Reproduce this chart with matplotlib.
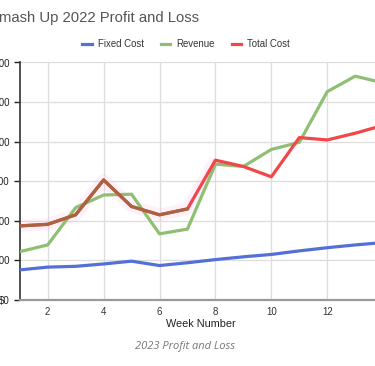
import matplotlib.pyplot as plt
import numpy as np

plt.rcParams['font.family'] = ['Liberation Sans', 'DejaVu Sans']

# weekly data
weeks = np.arange(1, 15)
fixed_cost = [152, 166, 170, 182, 196, 174, 188, 204, 218, 230, 248, 264, 278, 290]
revenue = [244, 278, 466, 530, 534, 334, 358, 686, 674, 760, 796, 1052, 1130, 1096]
total_cost = [374, 382, 430, 606, 472, 430, 460, 706, 674, 622, 820, 808, 842, 882]
y_ticks = [0, 200, 400, 600, 800, 1000, 1200]
y_labels = ['$0', '$200', '$400', '$600', '$800', '$1,000', '$1,200']

W, H = 375, 366
fig = plt.figure(figsize=(W / 100, H / 100), dpi=100)
# plot area is wider than the picture (chart was cropped on both sides)
x0, x1 = 19.7, 383.2
y0, y1 = 300, 62.3
ax = fig.add_axes([x0 / W, 1 - y0 / H, (x1 - x0) / W, (y0 - y1) / H])

blue = '#5470d6'
green = '#8fbf72'
red = '#f2474a'

# faint pink glow under the early part of total cost
ax.plot(weeks[:8], total_cost[:8], color='#ffb3e6', lw=9, alpha=0.18,
        solid_capstyle='butt', zorder=2)
ax.plot(weeks, fixed_cost, color=blue, lw=2.3, label='Fixed Cost', zorder=3)
ax.plot(weeks, revenue, color=green, lw=2.3, label='Revenue', zorder=3)
ax.plot(weeks, total_cost, color=red, lw=2.3, label='Total Cost', zorder=4)
# brownish tone where the total cost line looks blended in the reference
ax.plot(weeks[:7], total_cost[:7], color='#a9643f', lw=2.3, zorder=5)

ax.set_xlim(1, 14)
ax.set_ylim(0, 1200)
ax.set_xticks(np.arange(2, 15, 2))
ax.set_yticks(y_ticks)
ax.set_yticklabels(y_labels)
ax.tick_params(axis='x', length=0, labelsize=7, colors='#333333', pad=5)
ax.tick_params(axis='y', length=4, width=1, direction='out', labelsize=7,
               colors='#222222', pad=3)
ax.grid(True, color='#dddddd', lw=0.9)
ax.set_axisbelow(True)
for s in ['top', 'right']:
    ax.spines[s].set_visible(False)
ax.spines['left'].set_color('#333333')
ax.spines['left'].set_linewidth(1.2)
ax.spines['bottom'].set_color('#9a9a9a')
ax.spines['bottom'].set_linewidth(1.6)

fig.text(-11 / W, 1 - 18 / H, 'Smash Up 2022 Profit and Loss', fontsize=10.7,
         color='#555555', ha='left', va='center')
fig.legend(loc='center', bbox_to_anchor=(186 / W, 1 - 44 / H), ncol=3,
           frameon=False, fontsize=6.9, handlelength=1.0, handletextpad=0.6,
           columnspacing=1.8, labelcolor='#333333')
fig.text(201 / W, 1 - 324 / H, 'Week Number', fontsize=7.8, color='#222222',
         ha='center', va='center')
fig.text(185 / W, 1 - 346 / H, '2023 Profit and Loss', fontsize=8,
         color='#777777', style='italic', family=['Open Sans', 'DejaVu Sans'],
         ha='center', va='center')

fig.savefig('out.png', dpi=100)
